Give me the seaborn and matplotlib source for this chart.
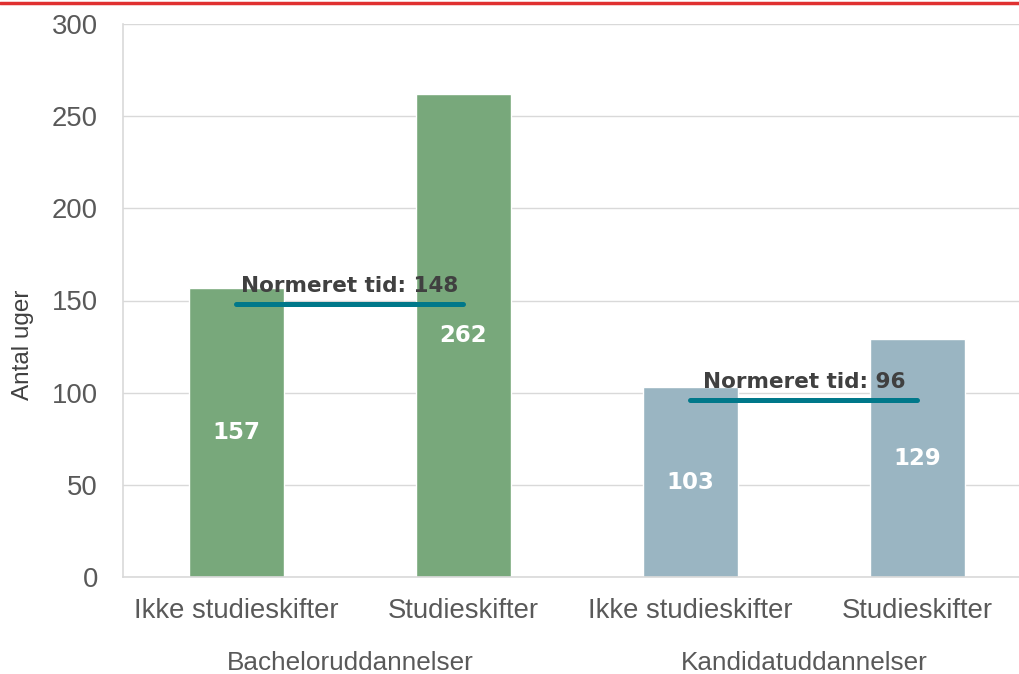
import matplotlib
matplotlib.use("Agg")
import matplotlib.pyplot as plt
from matplotlib.lines import Line2D
import seaborn as sns
import pandas as pd

# data
groups = ['Bacheloruddannelser', 'Kandidatuddannelser']
sub_labels = ['Ikke studieskifter', 'Studieskifter']
weeks = [157, 262, 103, 129]
norm_time = [148, 96]
bar_colors = ['#78A87B', '#9AB5C2']

rows = []
for gi, g in enumerate(groups):
    for si, s in enumerate(sub_labels):
        rows.append({'key': f'{g}|{s}', 'group': g, 'sub': s, 'weeks': weeks[gi * 2 + si]})
df = pd.DataFrame(rows)

sns.set_style('white')
plt.rcParams['font.family'] = ['Liberation Sans', 'DejaVu Sans']

fig = plt.figure(figsize=(10.2, 6.74), dpi=100)
ax = fig.add_axes([123 / 1020, 1 - 577 / 674, 908 / 1020, 553 / 674])

sns.barplot(data=df, x='key', y='weeks', hue='group', palette=bar_colors,
            width=0.42, dodge=False, legend=False, ax=ax, saturation=1)

# value labels in the middle of the bars
for i, v in enumerate(weeks):
    ax.text(i, v / 2, str(v), ha='center', va='center', color='white',
            fontsize=16.5, fontweight='bold', family='DejaVu Sans')

# normeret tid lines
for gi, nt in enumerate(norm_time):
    x0, x1 = gi * 2, gi * 2 + 1
    ax.plot([x0, x1], [nt, nt], color='#00788A', lw=3.6, solid_capstyle='round', zorder=4)
    ax.annotate(f'Normeret tid: {nt}', xy=((x0 + x1) / 2, nt), xytext=(0, 6),
                textcoords='offset points', ha='center', va='bottom',
                color='#404040', fontsize=15.5, fontweight='bold', family='DejaVu Sans', zorder=5)

ax.set_ylim(0, 300)
ax.set_xlim(-0.5, 3.5)
ax.set_yticks(range(0, 301, 50))
ax.yaxis.grid(True, color='#D9D9D9', lw=1)
ax.set_axisbelow(True)
ax.set_xticks(range(4))
ax.set_xticklabels(sub_labels * 2)
ax.tick_params(axis='both', labelsize=19.8, colors='#595959', length=0)
ax.tick_params(axis='x', pad=15)
ax.tick_params(axis='y', pad=18)
ax.set_xlabel('')
ax.set_ylabel('')
fig.text(23 / 1020, 1 - 345 / 674, 'Antal uger', rotation=90, ha='center', va='center',
         fontsize=17.5, color='#404040')

for side in ['top', 'right']:
    ax.spines[side].set_visible(False)
for side in ['left', 'bottom']:
    ax.spines[side].set_color('#D9D9D9')
    ax.spines[side].set_linewidth(1.2)

# group labels below the tick labels
for gi, g in enumerate(groups):
    fig.text((123 + 227 * (gi * 2 + 1)) / 1020, 1 - 663 / 674, g,
             ha='center', va='center', fontsize=18.8, color='#595959')

# red line at the top
fig.add_artist(Line2D([0, 1], [1 - 3 / 674, 1 - 3 / 674], color='#E03030', lw=2.5,
                      transform=fig.transFigure))

fig.savefig('out.png', dpi=100)
